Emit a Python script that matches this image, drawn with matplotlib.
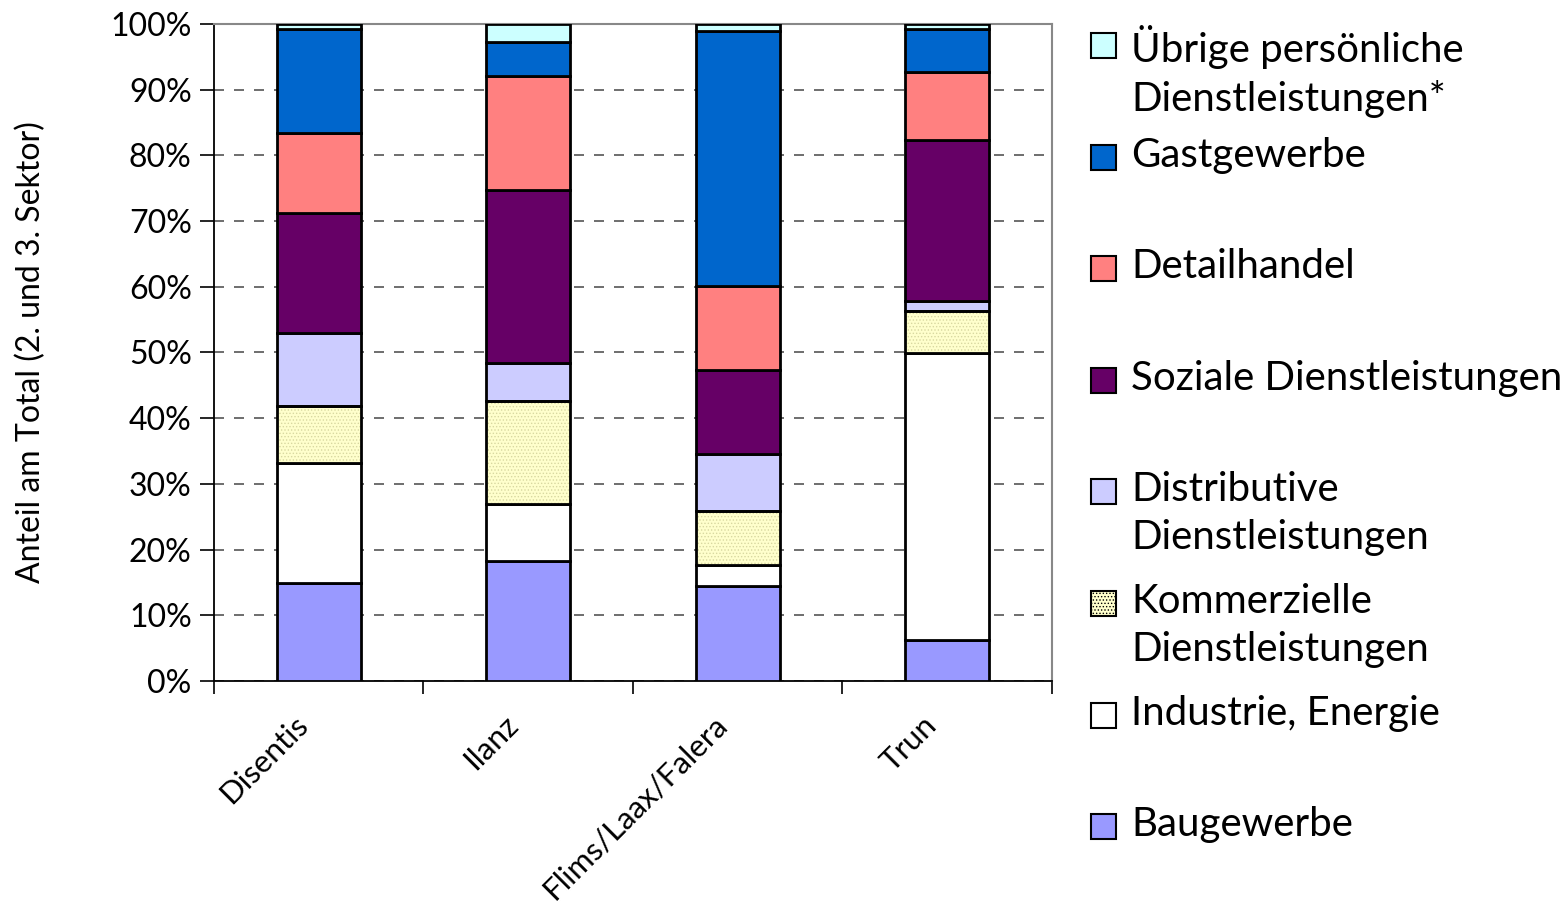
import matplotlib
matplotlib.use("Agg")
import matplotlib.pyplot as plt
from matplotlib.patches import Rectangle
import numpy as np

plt.rcParams['font.family'] = ['Lato', 'DejaVu Sans']
plt.rcParams['hatch.linewidth'] = 0.6

# Anteile der Branchen je Region (in %), von unten nach oben gestapelt
regionen = ['Disentis', 'Ilanz', 'Flims/Laax/Falera', 'Trun']
branchen = ['Baugewerbe', 'Industrie, Energie', 'Kommerzielle\nDienstleistungen',
            'Distributive\nDienstleistungen', 'Soziale Dienstleistungen',
            'Detailhandel', 'Gastgewerbe', 'Übrige persönliche\nDienstleistungen*']
baugewerbe = [14.9, 18.3, 14.5, 6.2]
industrie = [18.3, 8.6, 3.2, 43.7]
kommerziell = [8.7, 15.7, 8.2, 6.4]
distributiv = [11.1, 5.8, 8.7, 1.5]
sozial = [18.2, 26.3, 12.7, 24.5]
detailhandel = [12.2, 17.4, 12.8, 10.4]
gastgewerbe = [15.8, 5.2, 38.8, 6.5]
uebrige = [0.8, 2.7, 1.1, 0.8]

werte = [baugewerbe, industrie, kommerziell, distributiv, sozial,
         detailhandel, gastgewerbe, uebrige]
farben = ['#9999FF', '#FFFFFF', '#FFFFCC', '#CCCCFF', '#660066',
          '#FF8080', '#0066CC', '#CCFFFF']
muster = [None, None, '.....', None, None, None, None, None]

fig = plt.figure(figsize=(15.64, 9.08), dpi=100)
ax = fig.add_axes([0.1368, 0.25, 0.5358, 0.7236])

x = np.arange(len(regionen))
unten = np.zeros(len(regionen))
for w, f, m in zip(werte, farben, muster):
    ax.bar(x, w, width=0.4, bottom=unten, color=f, edgecolor='black',
           linewidth=2, hatch=m, zorder=3)
    unten += np.array(w)

# gepunktetes Muster etwas dezenter einfärben
for p in ax.containers[2]:
    p.set_edgecolor('#D8D8A0')
    p.set_linewidth(0)
ax.bar(x, kommerziell, width=0.4,
       bottom=np.array(baugewerbe) + np.array(industrie),
       fill=False, edgecolor='black', linewidth=2, zorder=4)

ax.set_xlim(-0.5, 3.5)
ax.set_ylim(0, 100)
ax.set_yticks(np.arange(0, 101, 10))
ax.set_yticklabels([f'{v}%' for v in range(0, 101, 10)], fontsize=23)
ax.yaxis.grid(True, linestyle=(0, (6, 6)), color='#555555', linewidth=1.2, zorder=0)
ax.set_ylabel('Anteil am Total (2. und 3. Sektor)', fontsize=23, labelpad=46)

ax.set_xticks(np.arange(-0.5, 4, 1))
ax.set_xticklabels([])
ax.tick_params(axis='x', direction='out', length=9, width=1.2)
ax.tick_params(axis='y', direction='out', length=10, width=1.2, pad=6)
for xi, name in zip(x, regionen):
    ax.text(xi - 0.12, -4.5, name, rotation=45, ha='right', va='top',
            rotation_mode='anchor', fontsize=22.5, transform=ax.transData)

ax.spines['top'].set_color('#888888')
ax.spines['right'].set_color('#888888')
for s in ['left', 'bottom']:
    ax.spines[s].set_linewidth(1.3)
for s in ['top', 'right']:
    ax.spines[s].set_linewidth(1.5)

# Legende rechts, oberster Eintrag zuerst
W, H = 1564, 908
for i, (name, f, m) in enumerate(zip(branchen[::-1], farben[::-1], muster[::-1])):
    yc = 46 + i * 111.6
    fig.patches.append(Rectangle((1091 / W, 1 - (yc + 12) / H), 25 / W, 25 / H,
                                 transform=fig.transFigure, facecolor=f,
                                 edgecolor='black', linewidth=1.5, hatch=m))
    fig.text(1131 / W, 1 - (yc - 21) / H, name, fontsize=29, va='top',
             ha='left', linespacing=1.35)

fig.savefig('out.png', dpi=100)
